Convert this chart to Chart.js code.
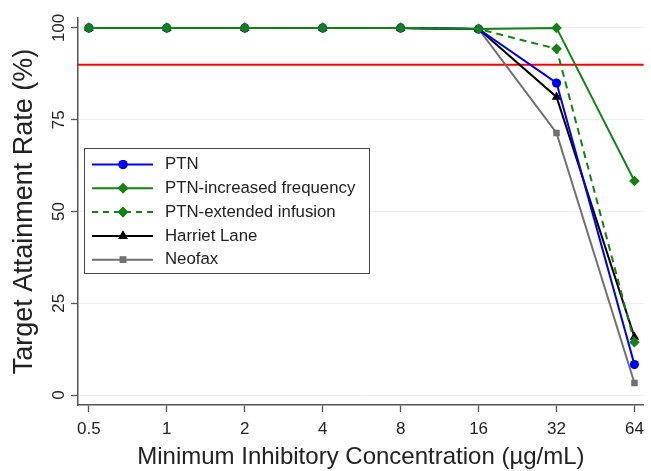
<!DOCTYPE html>
<html>
<head>
<meta charset="utf-8">
<script src="https://cdn.jsdelivr.net/npm/chart.js@4.4.1/dist/chart.umd.min.js"></script>
<style>
  html, body { margin: 0; padding: 0; background: #fff; }
  #wrap { width: 651px; height: 471px; }
</style>
</head>
<body>
<div id="wrap"><canvas id="c" width="651" height="471"></canvas></div>
<script>
const micLabels = ["0.5", "1", "2", "4", "8", "16", "32", "64"];
const yTicks = [0, 25, 50, 75, 100];
const ptn = [100, 100, 100, 100, 100, 99.7, 85, 8.3];
const ptnIncreased = [100, 100, 100, 100, 100, 99.7, 100, 58.3];
const ptnExtended = [100, 100, 100, 100, 100, 99.7, 94.3, 14.4];
const harrietLane = [100, 100, 100, 100, 100, 99.7, 81.2, 15.8];
const neofax = [100, 100, 100, 100, 100, 99.7, 71.4, 3.3];
const target = 90;
const xMin = -0.14, xMax = 7.12;

const toPoints = arr => arr.map((v, i) => ({ x: i, y: v }));
const font = "'Liberation Sans', Arial, sans-serif";

// z: higher = drawn on top
const series = [
    { label: "PTN", data: ptn, color: "#0000ff", point: "circle", r: 4.6, dash: [], z: 3 },
    { label: "PTN-increased frequency", data: ptnIncreased, color: "#128212", point: "rectRot", r: 5.3, dash: [], z: 5 },
    { label: "PTN-extended infusion", data: ptnExtended, color: "#128212", point: "rectRot", r: 5.3, dash: [7, 5], z: 4 },
    { label: "Harriet Lane", data: harrietLane, color: "#000000", point: "triangle", r: 5.5, dash: [], z: 2 },
    { label: "Neofax", data: neofax, color: "#707070", point: "rect", r: 4.6, dash: [], z: 1 }
];

const datasets = series.map(s => ({
    label: s.label,
    data: toPoints(s.data),
    borderColor: s.color,
    backgroundColor: s.color,
    borderWidth: 2,
    borderDash: s.dash,
    pointStyle: s.point,
    pointRadius: s.r,
    pointBorderWidth: 0,
    order: 6 - s.z
}));

datasets.push({
    label: "target",
    data: [{ x: xMin, y: target }, { x: xMax, y: target }],
    borderColor: "#ff0000",
    borderWidth: 2,
    pointRadius: 0,
    order: 10
});

// vertical y tick labels, centred on their ticks
const yLabels = {
    id: "yLabels",
    afterDraw(chart) {
        const ctx = chart.ctx, sy = chart.scales.y;
        ctx.save();
        ctx.font = "17px " + font;
        ctx.fillStyle = "#222";
        ctx.textAlign = "center";
        ctx.textBaseline = "middle";
        yTicks.forEach(v => {
            ctx.save();
            ctx.translate(59, sy.getPixelForValue(v));
            ctx.rotate(-Math.PI / 2);
            ctx.fillText(String(v), 0, 0);
            ctx.restore();
        });
        ctx.restore();
    }
};

// legend drawn inside the plot area
const insideLegend = {
    id: "insideLegend",
    afterDraw(chart) {
        const ctx = chart.ctx;
        const x0 = 84, y0 = 148, w = 285, h = 125;
        ctx.save();
        ctx.fillStyle = "#fff";
        ctx.fillRect(x0, y0, w, h);
        ctx.strokeStyle = "#444";
        ctx.lineWidth = 1;
        ctx.strokeRect(x0 + 0.5, y0 + 0.5, w, h);
        ctx.font = "16.8px " + font;
        ctx.textBaseline = "middle";
        series.forEach((s, i) => {
            const y = y0 + 16.5 + i * 23.8;
            ctx.strokeStyle = s.color;
            ctx.lineWidth = 2;
            ctx.setLineDash(s.dash.length ? [6, 5] : []);
            ctx.beginPath();
            ctx.moveTo(x0 + 8, y);
            ctx.lineTo(x0 + 69, y);
            ctx.stroke();
            ctx.setLineDash([]);
            ctx.fillStyle = s.color;
            Chart.helpers.drawPoint(ctx, { pointStyle: s.point, radius: s.r, borderWidth: 0 }, x0 + 39, y);
            ctx.fill();
            ctx.fillStyle = "#222";
            ctx.fillText(s.label, x0 + 81, y);
        });
        ctx.restore();
    }
};

new Chart(document.getElementById("c"), {
    type: "line",
    data: { datasets },
    plugins: [yLabels, insideLegend],
    options: {
        responsive: false,
        animation: false,
        layout: { padding: { top: 18, right: 3, left: 0, bottom: 0 } },
        plugins: { legend: { display: false }, tooltip: { enabled: false } },
        scales: {
            x: {
                type: "linear",
                min: xMin,
                max: xMax,
                afterBuildTicks: s => { s.ticks = micLabels.map((l, i) => ({ value: i })); },
                afterFit: s => { s.height = 66; },
                ticks: {
                    callback: v => micLabels[v],
                    color: "#222",
                    font: { family: font, size: 17 },
                    padding: 7,
                    maxRotation: 0
                },
                grid: { drawOnChartArea: false, tickColor: "#555", tickLength: 7, tickWidth: 1.3 },
                border: { color: "#555", width: 1.5 },
                title: {
                    display: true,
                    text: "Minimum Inhibitory Concentration (µg/mL)",
                    color: "#222",
                    font: { family: font, size: 24 },
                    padding: { top: 0, bottom: -1 }
                }
            },
            y: {
                min: -2.7,
                max: 102.7,
                afterBuildTicks: s => { s.ticks = yTicks.map(v => ({ value: v })); },
                afterFit: s => { s.width = 78; },
                ticks: { display: false },
                grid: { color: "#eaf0f0", lineWidth: 1, tickColor: "#555", tickLength: 7, tickWidth: 1.3 },
                border: { color: "#555", width: 1.5 },
                title: {
                    display: true,
                    text: "Target Attainment Rate (%)",
                    color: "#222",
                    font: { family: font, size: 27 },
                    padding: { top: 8, bottom: 0 }
                }
            }
        }
    }
});
</script>
</body>
</html>
